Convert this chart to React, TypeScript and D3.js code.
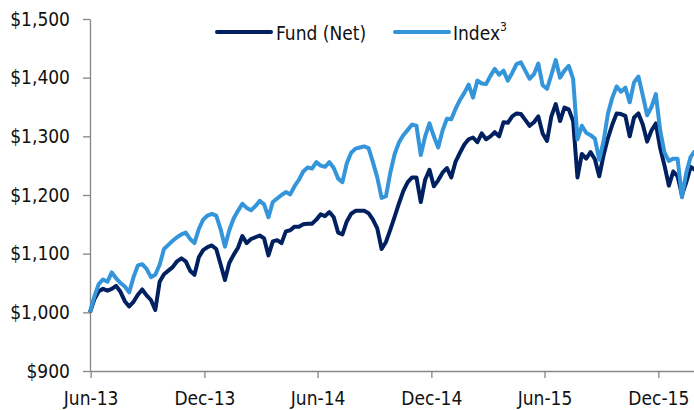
import React, { useEffect, useRef } from "react";
import * as d3 from "d3";

const width = 694;
const height = 410;
const margin = { top: 19, left: 90, bottom: 39, right: 0 };
const iheight = height - margin.top - margin.bottom;

const firstWeek = new Date(2013, 4, 31);
const lastWeek = new Date(2016, 0, 29);

const tickDates = [
  new Date(2013, 5, 1),
  new Date(2013, 11, 1),
  new Date(2014, 5, 1),
  new Date(2014, 11, 1),
  new Date(2015, 5, 1),
  new Date(2015, 11, 1),
];
const yTicks = [900, 1000, 1100, 1200, 1300, 1400, 1500];

// weekly growth of $1,000
const fundNet = [
  1000, 1022, 1036, 1040, 1037, 1040, 1045, 1035, 1019, 1010,
  1018, 1030, 1039, 1029, 1021, 1004, 1052, 1065, 1071, 1077,
  1087, 1092, 1087, 1071, 1064, 1094, 1106, 1111, 1114, 1108,
  1082, 1055, 1084, 1098, 1110, 1130, 1118, 1125, 1128, 1131,
  1126, 1097, 1121, 1123, 1118, 1138, 1140, 1146, 1146, 1150,
  1151, 1151, 1158, 1167, 1164, 1171, 1162, 1136, 1133, 1155,
  1168, 1173, 1173, 1173, 1169, 1158, 1143, 1108, 1120, 1141,
  1163, 1186, 1207, 1222, 1230, 1230, 1188, 1226, 1243, 1215,
  1225, 1238, 1246, 1230, 1257, 1272, 1286, 1295, 1298, 1290,
  1305, 1295, 1300, 1307, 1300, 1324, 1323, 1334, 1339, 1338,
  1328, 1318, 1324, 1334, 1305, 1292, 1334, 1355, 1326, 1349,
  1346, 1326, 1230, 1270, 1262, 1273, 1261, 1232, 1268, 1297,
  1320, 1339, 1338, 1335, 1300, 1332, 1339, 1320, 1291, 1310,
  1322, 1280, 1250, 1216, 1240, 1232, 1200, 1222, 1248, 1243,
];

const index3 = [
  1000, 1027, 1048, 1056, 1052, 1068, 1058, 1050, 1044, 1034,
  1060, 1080, 1082, 1074, 1060, 1064, 1081, 1108, 1115, 1122,
  1128, 1133, 1136, 1125, 1118, 1142, 1158, 1165, 1168, 1165,
  1142, 1112, 1140, 1160, 1173, 1185, 1178, 1174, 1181, 1190,
  1184, 1162, 1188, 1194, 1200, 1205, 1201, 1215, 1226, 1240,
  1247, 1245, 1256, 1250, 1248, 1256, 1246, 1228, 1222, 1254,
  1272, 1279, 1281, 1283, 1280, 1256, 1230, 1195, 1198, 1238,
  1270, 1290, 1302, 1311, 1320, 1318, 1268, 1300, 1322, 1300,
  1281, 1310, 1330, 1329, 1347, 1362, 1374, 1388, 1366, 1395,
  1390, 1389, 1403, 1415, 1405, 1412, 1395, 1408, 1423, 1426,
  1412, 1398, 1406, 1424, 1387, 1381, 1405, 1430, 1400, 1412,
  1420, 1398, 1295, 1318, 1306, 1302, 1296, 1260, 1292, 1339,
  1366, 1385, 1376, 1383, 1358, 1392, 1402, 1370, 1336, 1350,
  1372, 1310, 1272, 1258, 1262, 1262, 1196, 1238, 1265, 1275,
];

const fundColor = "#002060";
const indexColor = "#3495db";
const axisColor = "#868686";
const font = "'DejaVu Sans Condensed', 'DejaVu Sans', sans-serif";

function App() {
  const ref = useRef<SVGSVGElement>(null);

  useEffect(() => {
    const svg = d3.select(ref.current);
    svg.selectAll("*").remove();

    const weeks = d3.timeDay.range(firstWeek, d3.timeDay.offset(lastWeek, 1), 7);

    const x = d3
      .scaleTime()
      .domain([firstWeek, lastWeek])
      .range([margin.left, 695]);

    const y = d3
      .scaleLinear()
      .domain([900, 1500])
      .range([margin.top + iheight, margin.top]);

    // x axis
    const xAxis = svg
      .append("g")
      .attr("transform", `translate(0, ${margin.top + iheight})`)
      .call(
        d3
          .axisBottom(x)
          .tickValues(tickDates)
          .tickFormat((d) => d3.timeFormat("%b-%y")(d as Date))
          .tickSizeInner(7)
          .tickSizeOuter(0)
          .tickPadding(14)
      );

    // y axis
    const yAxis = svg
      .append("g")
      .attr("transform", `translate(${margin.left}, 0)`)
      .call(
        d3
          .axisLeft(y)
          .tickValues(yTicks)
          .tickFormat((d) => d3.format("$,")(d as number))
          .tickSizeInner(7)
          .tickSizeOuter(0)
          .tickPadding(13)
      );

    [xAxis, yAxis].forEach((ax) => {
      ax.select(".domain").attr("stroke", axisColor).attr("stroke-width", 1.3);
      ax.selectAll(".tick line").attr("stroke", axisColor).attr("stroke-width", 1.3);
      ax.selectAll(".tick text")
        .attr("fill", "#111")
        .style("font-family", font)
        .style("font-size", "19px");
    });

    const line = d3
      .line<number>()
      .x((d, i) => x(weeks[i]))
      .y((d) => y(d));

    svg
      .append("path")
      .datum(fundNet)
      .attr("fill", "none")
      .attr("stroke", fundColor)
      .attr("stroke-width", 4)
      .attr("stroke-linejoin", "round")
      .attr("d", line);

    svg
      .append("path")
      .datum(index3)
      .attr("fill", "none")
      .attr("stroke", indexColor)
      .attr("stroke-width", 4)
      .attr("stroke-linejoin", "round")
      .attr("d", line);

    // legend
    const legend = svg.append("g").style("font-family", font).style("font-size", "19px");
    legend
      .append("line")
      .attr("x1", 217)
      .attr("x2", 271)
      .attr("y1", 32)
      .attr("y2", 32)
      .attr("stroke", fundColor)
      .attr("stroke-width", 4)
      .attr("stroke-linecap", "round");
    legend.append("text").attr("x", 276).attr("y", 40).attr("fill", "#111").text("Fund (Net)");
    legend
      .append("line")
      .attr("x1", 395)
      .attr("x2", 449)
      .attr("y1", 32)
      .attr("y2", 32)
      .attr("stroke", indexColor)
      .attr("stroke-width", 4)
      .attr("stroke-linecap", "round");
    const idx = legend.append("text").attr("x", 453).attr("y", 40).attr("fill", "#111");
    idx.append("tspan").text("Index");
    idx.append("tspan").attr("dy", -9).style("font-size", "12px").text("3");
  }, []);

  return (
    <svg
      ref={ref}
      width={width}
      height={height}
      style={{ position: "absolute", left: 0, top: 0, background: "#fff" }}
    />
  );
}

export default App;
